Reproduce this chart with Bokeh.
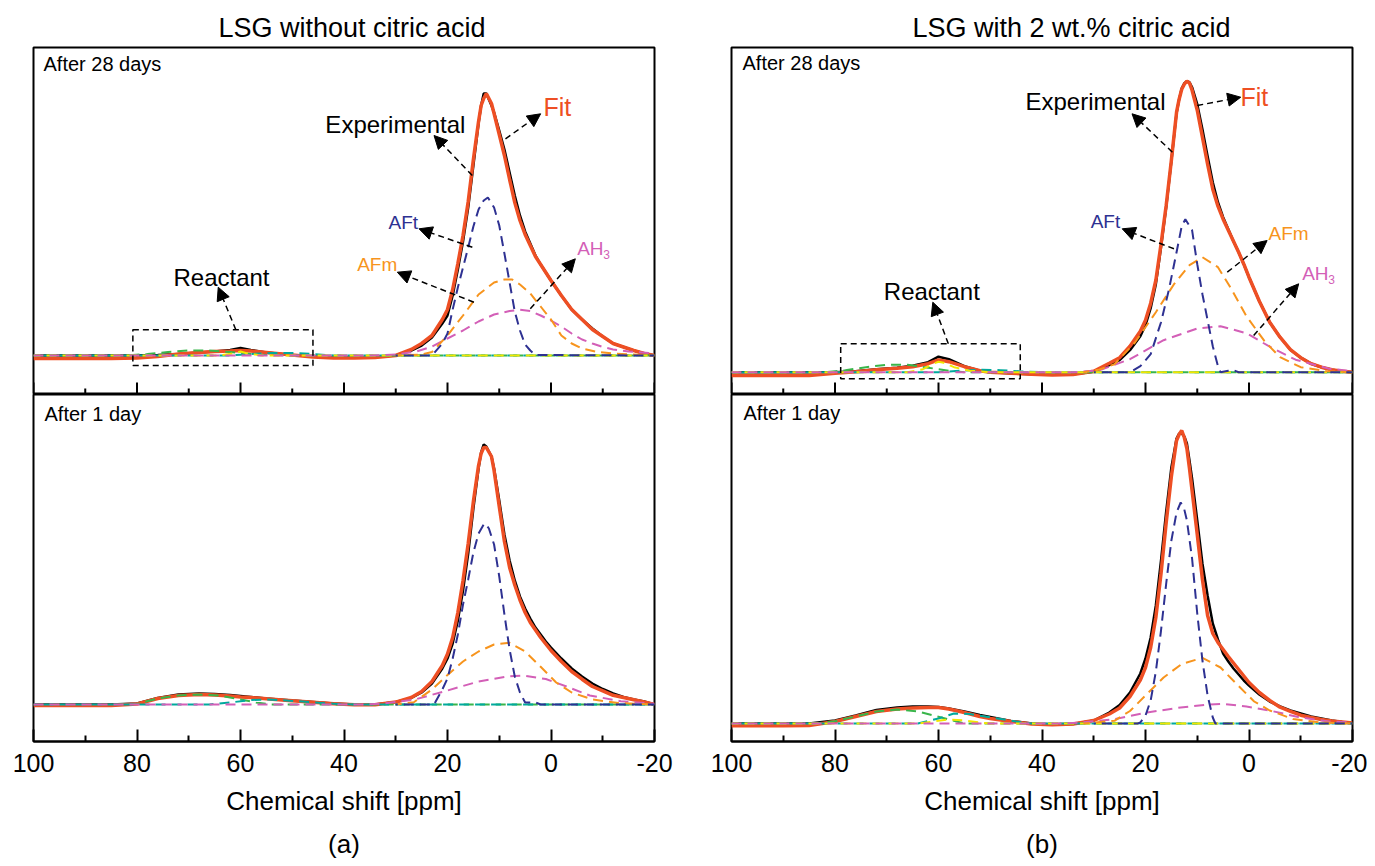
from bokeh.plotting import figure
from bokeh.models import (Range1d, FixedTicker, Label, Arrow, NormalHead,
                          BoxAnnotation, Title)
from bokeh.layouts import row, column
from bokeh.embed import file_html
from bokeh.resources import INLINE

FONT = "Liberation Sans"
RED = "#EE4F24"
BLUE = "#2E3192"
ORANGE = "#F7941D"
MAGENTA = "#D35FB7"
GREEN = "#39B54A"
CYAN = "#00A99D"
YELLOW = "#F2E600"

# ---------------- axis ticks ----------------
tick_values = [100, 80, 60, 40, 20, 0, -20]
tick_labels = ["100", "80", "60", "40", "20", "0", "-20"]
minor_tick_values = [90, 70, 50, 30, 10, -10]

panel_titles = ["LSG without citric acid", "LSG with 2 wt.% citric acid"]
panel_tags = ["(a)", "(b)"]
age_labels = ["After 28 days", "After 1 day"]
x_label = "Chemical shift [ppm]"

# ---------------- common chemical-shift grid (ppm) ----------------
shift = [100, 90, 85, 80, 76, 72, 68, 65, 62, 60,
         58, 55, 52, 50, 46, 42, 38, 34, 30, 27,
         25, 23, 21, 20, 19, 18, 17, 16, 15, 14,
         13.5, 13, 12.5, 12, 11.5, 11, 10, 9, 8, 7,
         6, 5, 4, 3, 2, 1, 0, -2, -4, -6,
         -8, -10, -12, -14, -16, -18, -20]

# ---------------- (a) without citric acid, 28 days ----------------
a28_exp = [0, 0, 0, 0, 0.5, 1.5, 3, 4, 5.5, 7.5,
           5.5, 3, 1.5, 0.5, -1, -2, -2, -1.5, 0, 5,
           10, 18, 32, 40, 60, 86, 114, 148, 190, 232,
           250, 262, 262, 256, 250, 243, 225, 206, 183, 160,
           140, 124, 112, 100, 91, 83, 75, 60, 46, 36,
           27, 19, 12, 8.5, 5, 2, 0]
a28_fit = [-3, -3, -3, -2.5, -1, 1.5, 3, 4, 4.5, 5,
           4.5, 3, 1.5, 0.5, -1.5, -2.5, -2.5, -2, 0, 6,
           12, 20, 36, 46, 66, 92, 120, 154, 196, 234,
           250, 257, 262, 257, 252, 242, 221, 200, 176, 153,
           135, 121, 110, 99, 91, 83, 75, 60, 46, 36,
           26, 19, 12, 8.5, 5, 2, 0]
a28_aft_x = [30, 23, 21, 20, 19, 18, 17, 16, 15, 14, 13, 12.2, 11, 10, 9, 8, 7, 6, 5, 4, 3, -20]
a28_aft_y = [0, 0, 12, 22, 46, 68, 88, 108, 129, 146, 155, 158, 148, 130, 102, 73, 44, 25, 11, 5, 0.5, 0]
a28_afm_x = [30, 25, 23, 20, 17, 14, 11, 9, 7.5, 6, 4, 2, 0, -2, -4, -6, -9, -12, -20]
a28_afm_y = [0, 1, 3.5, 20, 40, 61, 73, 76, 76, 71, 62, 49, 36, 20, 12, 7, 3.5, 2, 0]
a28_ah3_x = [100, 35, 30, 26, 23, 20, 17, 14, 11, 8, 6, 4, 2, 0, -2, -4, -6, -8, -10, -12, -15, -20]
a28_ah3_y = [0, 0, 1, 4, 9, 17, 25, 34, 41, 44.5, 45.7, 44.5, 40, 35, 29, 22, 16, 12, 8.5, 6, 4, 2]
a28_green_x = [100, 82, 78, 74, 70, 66, 62, 58, 55, 50, -20]
a28_green_y = [0, 0, 1.5, 3.5, 5, 5, 3.5, 1.5, 0.5, 0, 0]
a28_cyan_x = [100, 62, 58, 54, 50, 46, 42, -20]
a28_cyan_y = [0, 0, 1.5, 2.5, 2.5, 1.5, 0, 0]
a28_yellow_x = [100, 64, 61, 60, 59, 56, -20]
a28_yellow_y = [0, 0, 2.5, 4, 2.5, 0, 0]

# ---------------- (a) without citric acid, 1 day ----------------
a1_exp = [0, 0, 0, 1, 6.5, 10, 11, 10.5, 9.5, 8.5,
          7.5, 6, 4.8, 4, 2.5, 1, 0, 0, 2.5, 6.5,
          12, 21, 36, 46, 61, 84, 114, 151, 196, 236,
          252, 260, 258, 253, 248, 236, 204, 170, 144, 124,
          108, 96, 86, 77, 70, 63, 57, 46, 36, 28,
          21, 15.5, 11, 7.5, 5, 3, 0]
a1_fit = [-1, -1, -1, 0.5, 6, 9, 10, 9.5, 8.5, 7.5,
          7, 5.7, 4.5, 3.7, 2.2, 0.7, -0.3, -0.3, 2.4, 7,
          13, 23, 39, 50.5, 67, 92, 124, 161, 203, 239,
          251, 257, 257, 252.5, 248, 234, 198, 163, 137, 119.5,
          104.5, 92, 82, 74.5, 67, 60.5, 54, 43, 33, 25.3,
          18, 13.7, 9.2, 7, 4.7, 2.6, 0]
a1_aft_x = [30, 22.6, 21, 20, 19, 18, 17, 16, 15, 14, 13, 12.7, 12, 11, 10, 9, 8, 7, 6, 5, 3, 2, -20]
a1_aft_y = [0, 0, 15, 26, 46, 70, 100, 125, 152, 171, 180, 181, 176, 160, 128, 90, 55, 28, 12, 2, 2, 0, 0]
a1_afm_x = [30, 26.5, 23, 20, 17, 14, 11, 8, 5, 2, -1, -4, -8, -13, -20]
a1_afm_y = [0, 2.3, 15, 29.5, 43, 53, 60, 61.7, 53, 37.7, 22, 12, 5, 1.5, 0]
a1_ah3_x = [100, 36, 33, 26.5, 20, 14, 8.5, 5.3, 1, -3, -7.5, -13.5, -20]
a1_ah3_y = [0, 0, 0.7, 4.7, 14, 23, 28, 29, 25.5, 18, 9, 3.3, 0.7]
a1_green_x = [100, 84, 80, 76, 72, 68, 64, 60, 57, 54, -20]
a1_green_y = [0, 0, 0.5, 6, 9, 10, 9, 5, 2, 0, 0]
a1_cyan_x = [100, 66, 62, 58, 55, 52, 50, 46, 42, 38, -20]
a1_cyan_y = [0, 0, 2, 4.5, 5, 4.3, 3.6, 2.2, 0.7, 0, 0]

# ---------------- (b) with citric acid, 28 days ----------------
b28_exp = [0, 0, 0, 0, 1, 3, 4.5, 6.5, 10, 15.5,
           13, 6, 1.5, 0, -1, -2, -2.5, -2, 0.5, 7,
           12, 22, 36, 47, 64, 88, 125, 165, 211, 259,
           273, 284, 289, 291, 290, 285, 268, 243, 216, 190,
           170, 155, 143, 131, 120, 108, 95, 71, 50, 35,
           22.5, 14.5, 8.5, 5, 2.5, 1, 0]
b28_fit = [-3.3, -3.3, -3.3, -1, 0.5, 2.5, 4, 5.5, 8.5, 12.3,
           10.5, 5.5, 1.5, 0, -1, -2, -2.7, -2.3, 1, 9,
           14.5, 26, 41, 52, 69, 92, 128, 167, 212, 260,
           273, 283, 288, 291, 289, 282, 262, 235, 208, 183,
           166, 153, 142, 131, 120, 108, 95, 71, 50, 35,
           22.5, 14.5, 8.5, 5, 2.5, 1, 0]
b28_aft_x = [30, 23, 21, 19, 17, 15.5, 14, 13, 12.3, 11, 10, 9, 8, 7, 6, 5.5, 4, 3, 2, -20]
b28_aft_y = [0, 0, 6, 18, 50, 82, 120, 146, 153, 142, 108, 78, 52, 26, 6, 0, 1.5, 2, 0, 0]
b28_afm_x = [32, 29, 26, 22, 18, 14.5, 11.5, 9, 6, 3.5, 0.5, -3, -6, -10, -15, -20]
b28_afm_y = [0, 2.5, 8, 30, 60, 88, 107, 115, 105, 84, 56, 31, 15, 5, 1, 0]
b28_ah3_x = [100, 34, 29, 23, 16.5, 10, 5.5, 0.5, -4, -9, -15.5, -20]
b28_ah3_y = [0, 0, 1.7, 13, 32, 43.7, 46, 39, 25.5, 12.5, 3.5, 1]
b28_green_x = [100, 82, 78, 74, 70, 66, 62, 58, 55, -20]
b28_green_y = [0, 0, 2, 5, 7.5, 7.5, 4.5, 1.5, 0, 0]
b28_yellow_x = [100, 66, 63, 61, 60, 59, 57, 54, 50, -20]
b28_yellow_y = [0, 0, 3, 8.5, 10.5, 9.5, 5, 1.5, 0, 0]
b28_cyan_x = [100, 60, 56, 52, 48, 44, 40, -20]
b28_cyan_y = [0, 0, 1.5, 2.5, 2, 0.8, 0, 0]

# ---------------- (b) with citric acid, 1 day ----------------
b1_exp = [0, 0, 0, 3, 8, 13.5, 16, 17, 17, 16.5,
          15, 12, 8.5, 6.5, 2.5, 0, -1, -0.5, 3, 11,
          18.5, 31, 50, 65, 86, 118, 163, 212, 256, 285,
          290, 290, 287, 280, 263, 245, 203, 160, 128, 100,
          84, 70, 62, 55, 49, 43, 38, 29, 22, 17,
          13, 10, 7, 5, 3, 1.5, 0.5]
b1_fit = [-2.3, -2.3, -2, 2, 7, 12, 14.5, 15.5, 16, 16,
          14.5, 11, 7, 5, 2, -0.5, -1.3, -0.5, 3, 9.5,
          15.5, 27, 43.5, 56, 76, 106, 150, 201, 247, 283,
          289, 293, 286, 275, 255, 233, 189, 144, 108, 90,
          81, 74, 67, 60.5, 54, 47.5, 41, 31, 23, 16.3,
          12.2, 8.3, 6, 4, 2.5, 1.5, 0.5]
b1_aft_x = [30, 21.5, 21, 20, 19, 18, 17, 16, 15, 14, 13.2, 12.5, 12, 11, 10, 9, 8, 7, 6.5, -20]
b1_aft_y = [0, 0, 1, 8, 23, 52, 93, 140, 183, 211, 221, 214, 203, 165, 110, 63, 28, 6, 0, 0]
b1_afm_x = [32, 26, 23, 20, 16.5, 13, 9, 5.5, 2.3, -1, -4, -8.5, -14, -20]
b1_afm_y = [0, 2.7, 12.5, 28, 46, 59.5, 65.7, 56, 39, 22, 13, 4.5, 1, 0]
b1_ah3_x = [100, 36, 32.5, 26, 19.7, 13.2, 8, 5, 0.5, -4, -9.5, -15.5, -20]
b1_ah3_y = [0, 0, 1, 4.3, 11, 16, 19, 19.7, 17, 13, 6.5, 2, 1]
b1_green_x = [100, 84, 80, 76, 72, 68, 64, 61, 58, 55, -20]
b1_green_y = [0, 0, 2.3, 7, 12, 14, 12, 8, 4, 0, 0]
b1_cyan_x = [100, 64, 60, 57, 54, 51, 48, 45, 42, -20]
b1_cyan_y = [0, 0, 5, 10, 9.5, 7, 4.5, 2, 0, 0]
b1_yellow_x = [100, 64, 61, 58, 55, 52, 50, -20]
b1_yellow_y = [0, 0, 2, 4, 3, 1, 0, 0]

MAJOR_TICK = 12   # tick lengths in pixels (1 y-unit == 1 px in every panel)
MINOR_TICK = 6


def build(exp, fit, comps, y0, y1, w, h, bl, br, bt, bb, bottom,
          title=None, tag=None, age=None, texts=(), arrows=(), box=None):
    kw = {}
    if title is not None:
        kw["title"] = Title(text=title[0], align="left", offset=title[1],
                            text_font_size="27px", text_font=FONT,
                            text_font_style="normal", text_color="black",
                            standoff=9)
    else:
        kw["title"] = None
    p = figure(width=w, height=h, x_range=Range1d(100, -20),
               y_range=Range1d(y0, y1), output_backend="svg",
               toolbar_location=None, y_axis_location=None,
               x_axis_location="below" if bottom else None,
               min_border_left=bl, min_border_right=br,
               min_border_top=bt, min_border_bottom=bb, **kw)
    p.grid.visible = False
    p.outline_line_color = "black"
    p.outline_line_width = 2
    p.outline_line_alpha = 1
    p.background_fill_color = "white"
    p.border_fill_color = "white"

    if bottom:
        ax = p.xaxis[0]
        ax.ticker = FixedTicker(ticks=tick_values, minor_ticks=minor_tick_values)
        ax.major_label_overrides = {v: s for v, s in zip(tick_values, tick_labels)}
        ax.major_tick_in = MAJOR_TICK
        ax.major_tick_out = 0
        ax.minor_tick_in = MINOR_TICK
        ax.minor_tick_out = 0
        ax.major_tick_line_width = 2
        ax.minor_tick_line_width = 2
        ax.axis_line_width = 2
        ax.major_tick_line_color = "black"
        ax.minor_tick_line_color = "black"
        ax.axis_line_color = "black"
        ax.major_label_text_font_size = "25px"
        ax.major_label_text_font = FONT
        ax.major_label_text_color = "black"
        ax.major_label_standoff = 12
        ax.axis_label = x_label
        ax.axis_label_text_font_size = "26px"
        ax.axis_label_text_font = FONT
        ax.axis_label_text_font_style = "normal"
        ax.axis_label_text_color = "black"
        ax.axis_label_standoff = 11
    else:
        # inward ticks on the shared border, drawn with the panel's own scales
        p.segment(x0=tick_values, y0=[y0] * len(tick_values),
                  x1=tick_values, y1=[y0 + MAJOR_TICK] * len(tick_values),
                  line_color="black", line_width=2)
        p.segment(x0=minor_tick_values, y0=[y0] * len(minor_tick_values),
                  x1=minor_tick_values,
                  y1=[y0 + MINOR_TICK] * len(minor_tick_values),
                  line_color="black", line_width=2)

    p.line(shift, exp, line_color="black", line_width=2.5)
    p.line(shift, fit, line_color=RED, line_width=3.5)
    for xs, ys, color, off in comps:
        p.line(xs, ys, line_color=color, line_width=2, line_dash="10 6",
               line_dash_offset=off)

    if box is not None:
        p.add_layout(BoxAnnotation(left=box[0], right=box[1], bottom=box[2],
                                   top=box[3], fill_alpha=0, fill_color=None,
                                   line_color="black", line_alpha=1,
                                   line_width=1.5, line_dash="6 4"))
    for xs, ys, xe, ye in arrows:
        p.add_layout(Arrow(end=NormalHead(size=13, fill_color="black",
                                          line_color="black", line_width=1),
                           x_start=xs, y_start=ys, x_end=xe, y_end=ye,
                           line_color="black", line_width=1.5,
                           line_dash="6 4"))
    if age is not None:
        p.add_layout(Label(x=age[1], y=age[2], text=age[0],
                           text_font=FONT, text_font_size="20px",
                           text_color="black", text_align="left",
                           text_baseline="middle"))
    for t, x, y, color, size, xo, yo in texts:
        p.add_layout(Label(x=x, y=y, text=t, text_font=FONT,
                           text_font_size=size, text_color=color,
                           text_align="left", text_baseline="middle",
                           x_offset=xo, y_offset=yo))
    if tag is not None:
        p.add_layout(Title(text=tag, align="center", text_font_size="26px",
                           text_font=FONT, text_font_style="normal",
                           text_color="black", standoff=16), "below")
    return p


def comps_of(aft, afm, ah3, extra):
    out = []
    for xs, ys, c, o in extra:
        out.append((xs, ys, c, o))
    out.append((ah3[0], ah3[1], MAGENTA, 0))
    out.append((afm[0], afm[1], ORANGE, 4))
    out.append((aft[0], aft[1], BLUE, 8))
    return out


def texts_28(exp_xy, fit_xy, aft_xy, afm_xy, ah_xy, react_xy):
    return [
        ("Experimental", exp_xy[0], exp_xy[1], "black", "24px", 0, 0),
        ("Fit", fit_xy[0], fit_xy[1], RED, "25px", 0, 0),
        ("AFt", aft_xy[0], aft_xy[1], BLUE, "19px", 0, 0),
        ("AFm", afm_xy[0], afm_xy[1], ORANGE, "19px", 0, 0),
        ("AH", ah_xy[0], ah_xy[1], MAGENTA, "19px", 0, 0),
        ("3", ah_xy[0], ah_xy[1], MAGENTA, "12px", 26, -6),
        ("Reactant", react_xy[0], react_xy[1], "black", "24px", 0, 0),
    ]


# left column
pa28 = build(a28_exp, a28_fit,
             comps_of((a28_aft_x, a28_aft_y), (a28_afm_x, a28_afm_y),
                      (a28_ah3_x, a28_ah3_y),
                      [(a28_green_x, a28_green_y, GREEN, 0),
                       (a28_cyan_x, a28_cyan_y, CYAN, 6),
                       (a28_yellow_x, a28_yellow_y, YELLOW, 3)]),
             -39, 308, 684, 394, 33, 30, 47, 0, False,
             title=(panel_titles[0], 185), age=(age_labels[0], 98.07, 291.7),
             texts=texts_28((43.6, 231), (1.45, 249), (31.4, 133.5),
                            (37.45, 91), (-5.06, 106.7), (72.95, 78.5)),
             arrows=[(15.2, 180, 22.6, 220), (8.8, 216.7, 2.0, 241.7),
                     (15.2, 108.3, 25.5, 126.7), (14.9, 53.3, 29.7, 83.3),
                     (4.0, 46.7, -4.7, 96.7), (60.9, 25.7, 64.3, 68.3)],
             box=(46.0, 80.8, -10, 25.7))

pa1 = build(a1_exp, a1_fit,
            comps_of((a1_aft_x, a1_aft_y), (a1_afm_x, a1_afm_y),
                     (a1_ah3_x, a1_ah3_y),
                     [(a1_green_x, a1_green_y, GREEN, 0),
                      (a1_cyan_x, a1_cyan_y, CYAN, 6)]),
            -37, 310, 684, 472, 33, 30, 0, 125, True,
            tag=panel_tags[0], age=(age_labels[1], 97.87, 290.7))

# right column
pb28 = build(b28_exp, b28_fit,
             comps_of((b28_aft_x, b28_aft_y), (b28_afm_x, b28_afm_y),
                      (b28_ah3_x, b28_ah3_y),
                      [(b28_green_x, b28_green_y, GREEN, 0),
                       (b28_cyan_x, b28_cyan_y, CYAN, 6),
                       (b28_yellow_x, b28_yellow_y, YELLOW, 3)]),
             -22.3, 324.7, 683, 394, 47, 15, 47, 0, False,
             title=(panel_titles[1], 181), age=(age_labels[0], 97.87, 309.2),
             texts=texts_28((43.2, 270.9), (1.64, 275), (30.6, 151.2),
                            (-3.77, 139.2), (-10.28, 98.4), (70.57, 80.9)),
             arrows=[(14.8, 220, 22.6, 258.4), (10.0, 266.7, 1.6, 275),
                     (14.5, 123.4, 24.5, 143.4), (4.2, 100, -3.5, 131.7),
                     (-0.9, 36.7, -9.6, 88.4), (58.1, 28.4, 61.1, 70)],
             box=(44.2, 78.9, -6.6, 28.4))

pb1 = build(b1_exp, b1_fit,
            comps_of((b1_aft_x, b1_aft_y), (b1_afm_x, b1_afm_y),
                     (b1_ah3_x, b1_ah3_y),
                     [(b1_green_x, b1_green_y, GREEN, 0),
                      (b1_cyan_x, b1_cyan_y, CYAN, 6),
                      (b1_yellow_x, b1_yellow_y, YELLOW, 3)]),
            -18, 329, 683, 472, 47, 15, 0, 125, True,
            tag=panel_tags[1], age=(age_labels[1], 97.68, 311))

layout = row(column(pa28, pa1), column(pb28, pb1))

open("out.html", "w").write(file_html(layout, INLINE))
